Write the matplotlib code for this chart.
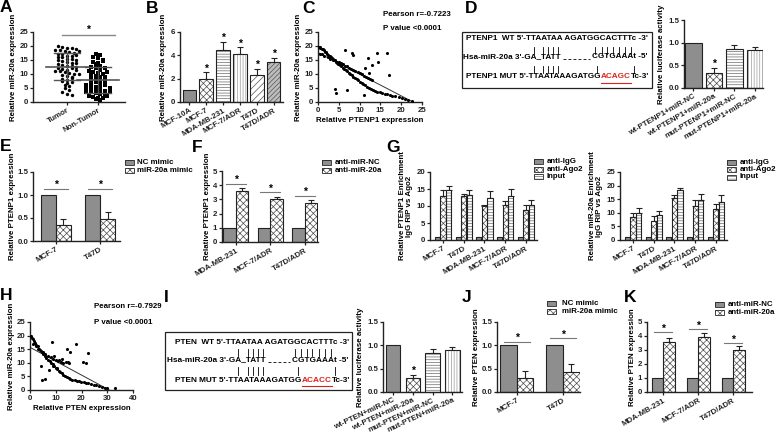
import matplotlib
matplotlib.use("Agg")
import matplotlib.pyplot as plt
from matplotlib.patches import Rectangle
import numpy as np

plt.rcParams["font.family"] = ["Liberation Sans", "DejaVu Sans"]
plt.rcParams["font.weight"] = "bold"
plt.rcParams["axes.labelweight"] = "bold"
plt.rcParams["hatch.linewidth"] = 0.5

FS = 5.7
W, H = 778, 437

# ---------------- data ----------------
# A: miR-20a in tumor / non-tumor tissue
tumor = [19.9, 19.6, 19.4, 19.2, 18.9, 18.7, 18.5, 18.3, 17.9, 17.6, 17.3, 17.0,
         16.6, 16.4, 16.1, 15.9, 15.5, 15.2, 14.9, 14.6, 14.3, 14.0, 13.6, 13.3,
         13.0, 12.7, 12.5, 12.2, 11.9, 11.6, 11.2, 10.9, 10.6, 10.3, 10.0, 9.6,
         9.2, 8.8, 8.3, 7.9, 7.4, 6.9, 6.2, 5.6, 4.9, 4.3, 3.5, 2.9, 2.5,
         18.1, 16.9, 15.0, 13.8, 12.0, 11.4, 10.1, 8.6, 7.1]
non_tumor = [17.3, 16.8, 16.2, 15.6, 15.0, 14.4, 13.9, 13.4, 12.9, 12.4, 12.0,
             11.6, 11.2, 10.8, 10.4, 10.0, 9.7, 9.3, 9.0, 8.6, 8.3, 8.0, 7.6,
             7.3, 7.0, 6.6, 6.3, 6.0, 5.7, 5.4, 5.1, 4.9, 4.6, 4.4, 4.1, 3.9,
             3.6, 3.4, 3.1, 2.8, 2.5, 2.2, 1.9, 1.6, 1.3, 1.0, 0.7,
             14.8, 12.2, 10.6, 9.1, 5.9, 5.0, 4.2, 3.7, 2.0]
a_labels = ["Tumor", "Non-Tumor"]

# B: cell lines
b_labels = ["MCF-10A", "MCF-7", "MDA-MB-231", "MCF-7/ADR", "T47D", "T47D/ADR"]
b_vals = [1.0, 2.0, 4.5, 4.1, 2.3, 3.4]
b_err = [0.0, 0.57, 0.65, 0.62, 0.57, 0.4]

# C: PTENP1 vs miR-20a
c_x = [0.2, 0.4, 0.6, 0.9, 1.1, 1.4, 1.7, 2.0, 2.2, 2.5, 2.8, 3.1, 3.4, 3.7, 4.0,
       4.3, 4.6, 4.9, 5.3, 5.6, 6.0, 6.3, 6.7, 7.0, 7.4, 7.8, 8.1, 8.5, 8.9, 9.3,
       9.7, 10.1, 10.5, 10.9, 11.3, 11.8, 12.2, 12.7, 13.2, 13.7, 14.2, 14.8,
       15.4, 16.0, 16.6, 17.2, 17.9, 18.6, 19.4, 20.1, 20.9, 21.6, 22.6,
       0.5, 1.0, 1.5, 2.5, 3.0, 3.5, 4.5, 5.0, 5.5, 6.0, 6.5, 7.0, 7.5, 8.0,
       8.5, 9.0, 9.5, 10.0, 10.5, 11.0, 11.5, 12.0, 12.5, 13.0,
       4.0, 4.4, 6.9, 6.5, 8.2, 8.5, 11.0, 11.3, 12.1, 13.1, 14.1, 14.5, 16.6,
       17.0, 12.2]
c_y = [19.8, 19.5, 19.4, 19.0, 18.8, 18.5, 18.0, 17.7, 17.2, 16.9, 16.4, 16.1,
       15.6, 15.2, 14.9, 14.4, 14.0, 13.7, 13.1, 12.8, 12.2, 11.9, 11.3, 11.0,
       10.4, 10.0, 9.5, 9.1, 8.6, 8.1, 7.7, 7.2, 6.8, 6.3, 5.9, 5.5, 5.1, 4.7,
       4.4, 4.0, 3.7, 3.4, 3.1, 2.9, 2.7, 2.5, 2.3, 2.0, 1.7, 1.4, 1.0, 0.8, 0.5,
       17.3, 17.0, 16.6, 16.0, 15.5, 15.0, 14.2, 14.4, 13.8, 13.4, 13.0, 12.8,
       12.3, 11.8, 11.4, 11.0, 10.6, 10.3, 9.9, 9.4, 9.0, 8.6, 8.2, 7.9,
       4.8, 3.3, 4.2, 18.4, 17.4, 16.8, 2.4, 12.0, 15.6, 13.2, 17.4, 14.4, 17.4,
       9.6, 10.4]

# D: luciferase PTENP1
d_labels = ["wt-PTENP1+miR-NC", "wt-PTENP1+miR-20a", "mut-PTENP1+miR-NC", "mut-PTENP1+miR-20a"]
d_vals = [1.0, 0.34, 0.86, 0.83]
d_err = [0.0, 0.11, 0.08, 0.08]

# E: PTENP1 after mimic
e_groups = ["MCF-7", "T47D"]
e_nc = [1.0, 1.0]
e_mir = [0.35, 0.48]
e_mir_err = [0.13, 0.15]

# F: PTENP1 after anti-miR
f_groups = ["MDA-MB-231", "MCF-7/ADR", "T47D/ADR"]
f_nc = [1.0, 1.0, 1.0]
f_anti = [3.59, 3.05, 2.75]
f_anti_err = [0.21, 0.15, 0.23]

# G: RIP
g_groups = ["MCF-7", "T47D", "MDA-MB-231", "MCF-7/ADR", "T47D/ADR"]
g1_igg = [1.0, 1.0, 1.0, 1.0, 1.0]
g1_ago = [13.0, 12.8, 9.9, 10.3, 8.7]
g1_ago_err = [1.6, 0.8, 0.4, 1.3, 1.6]
g1_inp = [14.8, 13.3, 12.5, 12.8, 10.3]
g1_inp_err = [1.2, 1.5, 1.8, 2.2, 1.5]
g2_igg = [1.0, 1.0, 1.0, 1.0, 1.0]
g2_ago = [8.3, 7.0, 15.4, 12.6, 11.5]
g2_ago_err = [1.6, 2.0, 1.2, 2.2, 1.7]
g2_inp = [10.1, 9.2, 18.5, 14.8, 13.9]
g2_inp_err = [1.6, 1.5, 0.8, 2.2, 2.7]

# H: PTEN vs miR-20a
h_x = [0.2, 0.6, 1.0, 1.5, 2.0, 2.5, 3.0, 3.5, 4.0, 4.6, 5.2, 5.8, 6.4, 7.0, 7.6,
       8.2, 8.8, 9.4, 10.0, 10.6, 11.2, 11.8, 12.4, 13.0, 13.6, 14.3, 15.0, 15.7,
       16.5, 17.3, 18.1, 19.0, 19.9, 20.8, 21.7, 22.6, 23.6, 24.7, 25.8, 26.9,
       28.0, 29.0, 29.8,
       1.2, 2.2, 3.2, 4.2, 5.0, 6.0, 7.0, 8.0, 9.0, 10.0, 11.0, 12.0, 13.0, 14.0,
       15.0, 12.5, 9.5,
       4.2, 4.5, 5.8, 7.5, 8.4, 11.4, 14.3, 14.9, 15.6, 17.9, 20.5, 21.8, 22.7,
       32.9, 9.0, 10.5]
h_y = [19.9, 19.3, 18.8, 18.0, 17.3, 16.7, 16.0, 15.2, 14.6, 13.9, 13.1, 12.5,
       11.8, 11.2, 10.6, 9.9, 9.4, 8.8, 8.2, 7.7, 7.1, 6.6, 6.1, 5.6, 5.2, 4.8,
       4.4, 4.1, 3.8, 3.6, 3.4, 3.2, 3.0, 2.8, 2.7, 2.5, 2.3, 2.0, 1.8, 1.5, 1.2,
       0.9, 0.6,
       16.8, 16.0, 15.2, 14.4, 14.0, 13.3, 12.6, 12.0, 11.5, 11.0, 10.6, 10.3,
       10.0, 10.4, 10.1, 11.4, 12.4,
       8.8, 3.7, 4.0, 7.3, 17.7, 11.0, 15.2, 10.4, 13.9, 17.0, 10.4, 9.8, 13.7,
       0.6, 9.0, 8.0]

# I: luciferase PTEN
i_labels = ["wt-PTEN+miR-NC", "wt-PTEN+miR-20a", "mut-PTEN+miR-NC", "mut-PTEN+miR-20a"]
i_vals = [1.0, 0.31, 0.84, 0.91]
i_err = [0.0, 0.06, 0.08, 0.06]

# J: PTEN after mimic
j_groups = ["MCF-7", "T47D"]
j_nc = [1.0, 1.0]
j_mir = [0.29, 0.43]
j_mir_err = [0.15, 0.16]

# K: PTEN after anti-miR
k_groups = ["MDA-MB-231", "MCF-7/ADR", "T47D/ADR"]
k_nc = [1.0, 1.0, 1.0]
k_anti = [3.57, 3.93, 3.02]
k_anti_err = [0.31, 0.28, 0.24]

# sequence alignments (D, I)
mir_seq = "Hsa-miR-20a 3'-GA_TATT"
mir_seq_end = "CGTGAAAt -5'"
ptenp1_wt = "PTENP1  WT 5'-TTAATAA AGATGGCACTTTc -3'"
ptenp1_mut = ["PTENP1 MUT 5'-TTAATAAAGATGG", "ACAGC", "Tc-3'"]
pten_wt = "PTEN  WT 5'-TTAATAA AGATGGCACTTTc -3'"
pten_mut = ["PTEN MUT 5'-TTAATAAAGATGG", "ACACC", "Tc-3'"]

# fill, hatch, hatch colour
STYLES = {
    "gray": ("#8e8e8e", None, "#707070"),
    "check": ("white", "xxxxx", "#4d4d4d"),
    "hline": ("white", "------", "#6a6a6a"),
    "vline": ("white", "||||||", "#9a9a9a"),
    "diag": ("white", "/////", "#555555"),
    "diag2": ("#bdbdbd", "///////", "#555555"),
}

fig = plt.figure(figsize=(W / 100, H / 100), dpi=100)


def axes_px(x0, y0, x1, y1):
    return fig.add_axes([x0 / W, 1 - y1 / H, (x1 - x0) / W, (y1 - y0) / H])


def tidy(ax):
    for s in ("top", "right"):
        ax.spines[s].set_visible(False)
    for s in ("left", "bottom"):
        ax.spines[s].set_linewidth(1.0)
        ax.spines[s].set_color("#222222")
    ax.tick_params(labelsize=FS, width=0.9, length=2.5, pad=1, colors="#222222")


def ylabel_at(ax, text, box, x_px, **kw):
    # place the y label centre at a given figure pixel column
    ax.set_ylabel(text, fontsize=FS, **kw)
    ax.yaxis.set_label_coords((x_px - box[0]) / (box[2] - box[0]), 0.5)


def draw_bar(ax, x, h, err, key, w):
    fc, hatch, hc = STYLES[key]
    ax.bar(x, h, w, color=fc, edgecolor=hc, hatch=hatch, linewidth=0, zorder=2)
    ax.bar(x, h, w, fill=False, edgecolor="#222222", linewidth=0.8, zorder=3)
    if err > 0:
        ax.errorbar(x, h, yerr=[[0], [err]], fmt="none", ecolor="#222222",
                    elinewidth=0.8, capsize=2, capthick=0.8, zorder=1)


def star(ax, x, y):
    ax.text(x, y, "*", ha="center", va="baseline", fontsize=7.5)


def xlabels(ax, pos, labels, rot=30):
    ax.set_xticks(pos)
    ax.set_xticklabels(labels, rotation=rot, ha="right", rotation_mode="anchor", fontsize=FS)


# ---------------- A ----------------
boxA = (33, 32, 125, 102)
axA = axes_px(*boxA)
tidy(axA)
for i, vals in enumerate([tumor, non_tumor]):
    v = np.array(vals)
    bins = np.floor(v / 1.25)
    xs = np.zeros_like(v)
    for b in np.unique(bins):
        idx = np.where(bins == b)[0]
        xs[idx] = i + (np.arange(len(idx)) - (len(idx) - 1) / 2) * 0.15
    axA.scatter(xs, v, s=6, marker="o" if i == 0 else "s", color="black", lw=0, zorder=3)
    m, sd = v.mean(), v.std(ddof=1)
    axA.plot([i - 0.67, i + 0.67], [m, m], color="#555555", lw=1.2, zorder=4)
    axA.plot([i - 0.43, i + 0.43], [m - sd] * 2, color="#555555", lw=1.0, zorder=4)
    axA.plot([i - 0.43, i + 0.43], [m + sd] * 2, color="#555555", lw=1.0, zorder=4)
    axA.plot([i, i], [m - sd, m + sd], color="#555555", lw=1.0, zorder=4)
axA.plot([-0.16, 1.55], [23.9, 23.9], color="#888888", lw=1.0)
axA.text(0.68, 24.6, "*", ha="center", va="baseline", fontsize=7.5)
axA.set_xlim(-1.1, 1.87)
axA.set_ylim(0, 25)
axA.set_yticks([0, 5, 10, 15, 20, 25])
xlabels(axA, [0, 1], a_labels)
ylabel_at(axA, "Relative miR-20a expression", boxA, 17)

# ---------------- B ----------------
axB = axes_px(180, 32, 283, 102)
tidy(axB)
b_keys = ["gray", "check", "hline", "vline", "diag", "diag2"]
for i, (v, e, k) in enumerate(zip(b_vals, b_err, b_keys)):
    draw_bar(axB, i, v, e, k, 0.8)
    if i > 0:
        star(axB, i, v + e + 0.05)
axB.set_xlim(-0.55, 5.55)
axB.set_ylim(0, 6)
axB.set_yticks([0, 2, 4, 6])
xlabels(axB, range(6), b_labels)
axB.set_ylabel("Relative miR-20a expression", fontsize=FS, labelpad=3)


# ---------------- C / H scatter ----------------
def corr_panel(box, xs, ys, xlim, xticks, xlabel, lab_x):
    ax = axes_px(*box)
    tidy(ax)
    ax.scatter(xs, ys, s=5, color="black", lw=0, zorder=3)
    k, b = np.polyfit(xs, ys, 1)
    ax.plot([0, -b / k], [b, 0], color="#333333", lw=0.7, zorder=2)
    ax.set_xlim(*xlim)
    ax.set_ylim(0, 25)
    ax.set_yticks([0, 5, 10, 15, 20, 25])
    ax.set_xticks(xticks)
    ax.set_xlabel(xlabel, fontsize=FS, labelpad=2)
    ylabel_at(ax, "Relative miR-20a expression", box, lab_x)
    return ax


corr_panel((318, 32, 422, 102), c_x, c_y, (0, 25), [0, 5, 10, 15, 20, 25],
           "Relative PTENP1 expression", 302)
corr_panel((30, 322, 133, 390), h_x, h_y, (0, 40), [0, 10, 20, 30, 40],
           "Relative PTEN expression", 15)


# ---------------- luciferase bars (D, I) ----------------
def luc_panel(box, vals, errs, labels, xlim, w, rot):
    ax = axes_px(*box)
    tidy(ax)
    for i, (v, e, k) in enumerate(zip(vals, errs, ["gray", "check", "hline", "vline"])):
        draw_bar(ax, i, v, e, k, w)
    star(ax, 1, vals[1] + errs[1] + 0.02)
    ax.set_xlim(*xlim)
    ax.set_ylim(0, 1.5)
    ax.set_yticks([0, 0.5, 1.0, 1.5])
    ax.set_yticklabels(["0.0", "0.5", "1.0", "1.5"])
    xlabels(ax, range(4), labels, rot=rot)
    ax.set_ylabel("Relative luciferase activity", fontsize=FS, labelpad=2)
    return ax


luc_panel((684, 20, 763, 88), d_vals, d_err, d_labels, (-0.46, 3.39), 0.8, 30)
luc_panel((383, 322, 462, 392), i_vals, i_err, i_labels, (-0.5, 3.48), 0.72, 25)


# ---------------- paired bars (E, F, J, K) ----------------
def pair_panel(box, groups, nc, trt, trt_err, xlim, ylim, yticks, ylabel,
               sig_y, w=0.34, fmt=None, lab_x=None):
    ax = axes_px(*box)
    tidy(ax)
    for i in range(len(groups)):
        draw_bar(ax, i - w / 2, nc[i], 0, "gray", w)
        draw_bar(ax, i + w / 2, trt[i], trt_err[i], "check", w)
        ax.plot([i - w * 0.8, i + w * 0.8], [sig_y[i], sig_y[i]], color="#777777", lw=0.8)
        star(ax, i, sig_y[i] + (ylim[1] - ylim[0]) * 0.012)
    ax.set_xlim(*xlim)
    ax.set_ylim(*ylim)
    ax.set_yticks(yticks)
    if fmt:
        ax.set_yticklabels([fmt % t for t in yticks])
    xlabels(ax, range(len(groups)), groups)
    if lab_x is None:
        ax.set_ylabel(ylabel, fontsize=FS, labelpad=1)
    else:
        ylabel_at(ax, ylabel, box, lab_x)
    return ax


pair_panel((33, 172, 120, 241), e_groups, e_nc, e_mir, e_mir_err, (-0.52, 1.45),
           (0, 1.5), [0, 0.5, 1.0, 1.5], "Relative PTENP1 expression", [1.13, 1.13],
           fmt="%.1f", lab_x=16)
pair_panel((222, 171, 318, 242), f_groups, f_nc, f_anti, f_anti_err, (-0.4, 2.38),
           (0, 5), [0, 1, 2, 3, 4, 5], "Relative PTENP1 expression", [4.1, 3.5, 3.25],
           w=0.36)
pair_panel((497, 322, 580, 392), j_groups, j_nc, j_mir, j_mir_err, (-0.43, 1.37),
           (0, 1.5), [0, 0.5, 1.0, 1.5], "Relative PTEN expression", [1.07, 1.15],
           w=0.36, fmt="%.1f")
pair_panel((647, 322, 752, 392), k_groups, k_nc, k_anti, k_anti_err, (-0.46, 2.54),
           (0, 5), [0, 1, 2, 3, 4, 5], "Relative PTEN expression", [4.26, 4.48, 3.48],
           w=0.33)


# ---------------- G: RIP ----------------
def rip_panel(box, igg, ago, ago_err, inp, inp_err, ymax, ylabel):
    ax = axes_px(*box)
    tidy(ax)
    w = 0.25
    for i in range(len(g_groups)):
        draw_bar(ax, i - 0.27, igg[i], 0, "gray", w)
        draw_bar(ax, i, ago[i], ago_err[i], "check", w)
        draw_bar(ax, i + 0.27, inp[i], inp_err[i], "hline", w)
    ax.set_xlim(-0.63, 4.54)
    ax.set_ylim(0, ymax)
    ax.set_yticks(range(0, ymax + 1, 5))
    xlabels(ax, range(len(g_groups)), g_groups)
    ax.set_ylabel(ylabel, fontsize=FS, labelpad=2, linespacing=1.0)
    return ax


rip_panel((430, 172, 537, 240), g1_igg, g1_ago, g1_ago_err, g1_inp, g1_inp_err, 20,
          "Relative PTENP1 Enrichment\nIgG RIP vs Ago2")
rip_panel((620, 172, 727, 240), g2_igg, g2_ago, g2_ago_err, g2_inp, g2_inp_err, 25,
          "Relative miR-20a Enrichment\nIgG RIP vs Ago2")

# ---------------- overlay in pixel coordinates ----------------
ov = fig.add_axes([0, 0, 1, 1], zorder=10)
ov.set_xlim(0, W)
ov.set_ylim(H, 0)
ov.axis("off")

for letter, (lx, ly) in {"A": (0, 0), "B": (146, 1), "C": (302, 1), "D": (465, 1),
                         "E": (0, 139), "F": (192, 140), "G": (386, 140),
                         "H": (0, 288), "I": (164, 290), "J": (462, 290),
                         "K": (624, 290)}.items():
    ov.text(lx, ly, letter, fontsize=12.5, fontweight="bold", ha="left", va="top")

ov.text(383, 15, "Pearson r=-0.7223", fontsize=FS, va="center")
ov.text(383, 28, "P value <0.0001", fontsize=FS, va="center")
ov.text(94, 307, "Pearson r=-0.7929", fontsize=FS, va="center")
ov.text(94, 322, "P value <0.0001", fontsize=FS, va="center")


def legend_px(x, y, labels, keys, tx, dy=7.5):
    for i, (lab, key) in enumerate(zip(labels, keys)):
        yy = y + i * dy
        fc, hatch, hc = STYLES[key]
        ov.add_patch(Rectangle((x, yy - 2.5), 9, 5, facecolor=fc, edgecolor=hc,
                               hatch=hatch, lw=0))
        ov.add_patch(Rectangle((x, yy - 2.5), 9, 5, fill=False, edgecolor="#222222", lw=0.6))
        ov.text(tx, yy, lab, fontsize=FS, va="center", ha="left")


legend_px(125, 162.5, ["NC mimic", "miR-20a mimic"], ["gray", "check"], 137)
legend_px(322, 162.7, ["anti-miR-NC", "anti-miR-20a"], ["gray", "check"], 335)
legend_px(534, 161.7, ["anti-IgG", "anti-Ago2", "Input"], ["gray", "check", "hline"], 547)
legend_px(727, 162.0, ["anti-IgG", "anti-Ago2", "Input"], ["gray", "check", "hline"], 740)
legend_px(547, 303.3, ["NC mimic", "miR-20a mimic"], ["gray", "check"], 562, dy=8.3)
legend_px(715, 304.0, ["anti-miR-NC", "anti-miR-20a"], ["gray", "check"], 728, dy=8.3)

# ---------------- sequence boxes (D, I) ----------------
renderer = fig.canvas.get_renderer()


def text_w(s, fs):
    t = ov.text(0, 0, s, fontsize=fs)
    w = t.get_window_extent(renderer).width
    t.remove()
    return w


def char_x(x0, s, k, fs):
    return x0 + text_w(s[:k + 1], fs) - text_w(s[k], fs) / 2


def seq_box(box, rows, wt, mut, x_left, x_mir, x_right, bar_top, bar_bot):
    x0, y0, x1, y1 = box
    ov.add_patch(Rectangle((x0, y0), x1 - x0, y1 - y0, fill=False,
                           edgecolor="#222222", lw=0.9))
    # font size so the mutant line fills the same width as in the figure
    fs = 6.0 * (x_right - x_left) / text_w("".join(mut), 6.0)
    # wild-type line
    ov.text(x_left, rows[0], wt, fontsize=fs, ha="left", va="center")
    # miRNA line: seed part, gap, 3' part
    ov.text(x_mir, rows[1], mir_seq, fontsize=fs, ha="left", va="center")
    end_w = text_w(mir_seq_end, fs)
    x_end = x_right - 2 - end_w
    ov.text(x_end, rows[1], mir_seq_end, fontsize=fs, ha="left", va="center")
    ov.plot([x_mir + text_w(mir_seq, fs) + 2, x_end - 2], [rows[1] + 2] * 2,
            color="black", lw=0.6, ls=(0, (3.5, 2.5)))
    # mutant line, red mutated block underlined
    x = x_left
    spans = []
    for part, col in zip(mut, ["black", "#e0201b", "black"]):
        ov.text(x, rows[2], part, fontsize=fs, ha="left", va="center", color=col)
        w = text_w(part, fs)
        spans.append((x, x + w))
        x += w + 0.4
    ov.plot(spans[1], [rows[2] + 5.5] * 2, color="#e0201b", lw=0.8)
    # pairing bars
    seed = [char_x(x_mir, mir_seq, k, fs) for k in (16, 18, 19, 20, 21)]
    tail = [char_x(x_end, mir_seq_end, k, fs) for k in range(7)]
    for bx in seed + tail:
        ov.plot([bx, bx], bar_top, color="black", lw=0.6)
    flank = [spans[0][1] - text_w("G", fs) / 2, spans[2][0] + text_w("T", fs) / 2]
    for bx in seed + flank:
        ov.plot([bx, bx], bar_bot, color="black", lw=0.6)


seq_box((462, 32, 652, 88), [38, 57, 77], ptenp1_wt, ptenp1_mut, 466, 463, 650,
        (47, 54), (66, 73))
seq_box((165, 332, 352, 390), [342, 360, 380], pten_wt, pten_mut, 175, 167, 350,
        (349, 356), (367, 375))

fig.savefig("out.png", dpi=100)
